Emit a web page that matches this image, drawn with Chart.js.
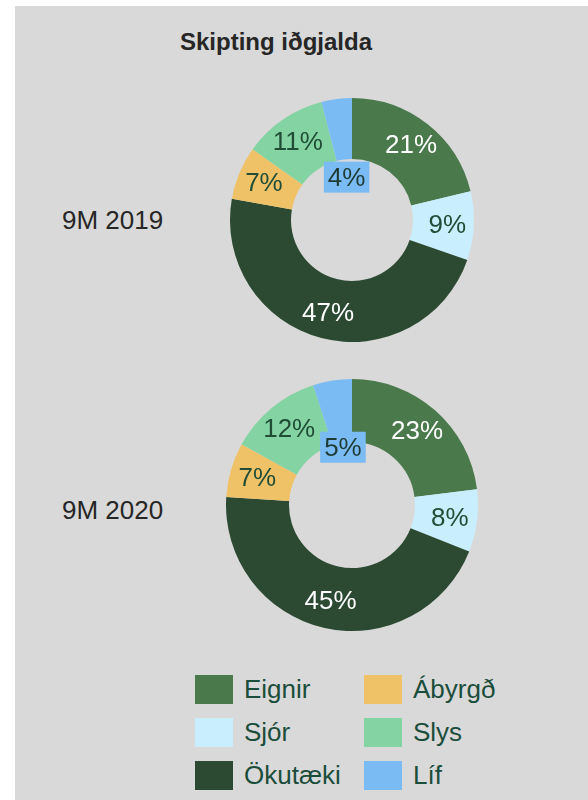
<!DOCTYPE html>
<html>
<head>
<meta charset="utf-8">
<script src="https://cdn.jsdelivr.net/npm/chart.js@4"></script>
<style>
  body { margin: 0; background: #fff; font-family: "Liberation Sans", Arial, sans-serif; }
  #panel { position: absolute; left: 15px; top: 6px; width: 573px; height: 794px; background: #d9d9d9; }
  #title { position: absolute; left: 180px; top: 28px; width: 188px; text-align: center; white-space: nowrap;
           font-weight: bold; font-size: 24px; color: #262626; }
  .rowLabel { position: absolute; left: 62px; font-size: 26px; color: #262626; line-height: 30px; }
  canvas { position: absolute; }
  #legend { position: absolute; left: 195px; top: 668px; display: grid; grid-template-rows: repeat(3, 43px);
            grid-auto-flow: column; grid-template-columns: 169px 150px; }
  .item { display: flex; align-items: center; font-size: 26px; color: #1b4d3b; height: 43px; }
  .box { width: 38px; height: 29px; margin-right: 11px; }
</style>
</head>
<body>
<div id="panel"></div>
<div id="title">Skipting iðgjalda</div>
<div class="rowLabel" style="top:205px">9M 2019</div>
<div class="rowLabel" style="top:495px">9M 2020</div>
<canvas id="c2019" width="260" height="260" style="left:222px;top:90px"></canvas>
<canvas id="c2020" width="260" height="260" style="left:222px;top:375px"></canvas>
<div id="legend"></div>
<script>
"use strict";

// flokkar
const categories = ["Eignir", "Sjór", "Ökutæki", "Ábyrgð", "Slys", "Líf"];
const values2019 = [21, 9, 47, 7, 11, 4];
const values2020 = [23, 8, 45, 7, 12, 5];
const colors = ["#4a7a4b", "#c9eefe", "#2c4a32", "#f0c267", "#84d3a2", "#7bbbf3"];
const labelColors = ["#ffffff", "#214d37", "#ffffff", "#214d37", "#214d37", "#1f3b36"];

// merkingar á sneiðum
const sliceLabels = {
  id: "sliceLabels",
  afterDatasetsDraw(chart, args, opts) {
    const ctx = chart.ctx;
    const meta = chart.getDatasetMeta(0);
    const data = chart.data.datasets[0].data;
    ctx.save();
    ctx.font = "26px 'Liberation Sans', Arial, sans-serif";
    ctx.textAlign = "center";
    ctx.textBaseline = "middle";
    meta.data.forEach((arc, i) => {
      const p = arc.getProps(["x", "y", "startAngle", "endAngle", "innerRadius", "outerRadius"], true);
      const mid = (p.startAngle + p.endAngle) / 2;
      let r = (p.innerRadius + p.outerRadius) / 2 + 4;
      const txt = data[i] + "%";
      if (i === 5) r = p.innerRadius * opts.lifFactor;
      const x = p.x + Math.cos(mid) * r;
      const y = p.y + Math.sin(mid) * r;
      if (i === 5) {
        const w = ctx.measureText(txt).width + 8;
        ctx.fillStyle = colors[5];
        ctx.fillRect(x - w / 2, y - 16, w, 31);
      }
      ctx.fillStyle = labelColors[i];
      ctx.fillText(txt, x, y + 1);
    });
    ctx.restore();
  }
};

function makeChart(id, values, pad, lifFactor) {
  const ctx = document.getElementById(id).getContext("2d");
  return new Chart(ctx, {
    type: "doughnut",
    data: {
      labels: categories,
      datasets: [{ data: values, backgroundColor: colors, borderWidth: 0 }]
    },
    options: {
      responsive: false,
      animation: false,
      cutout: "50%",
      layout: { padding: pad },
      plugins: {
        legend: { display: false },
        tooltip: { enabled: false },
        sliceLabels: { lifFactor: lifFactor }
      }
    },
    plugins: [sliceLabels]
  });
}

makeChart("c2019", values2019, 8, 0.7);
makeChart("c2020", values2020, 4, 0.92);

// skýringar
const legend = document.getElementById("legend");
categories.forEach((name, i) => {
  const item = document.createElement("div");
  item.className = "item";
  item.innerHTML = '<span class="box" style="background:' + colors[i] + '"></span>' + name;
  legend.appendChild(item);
});
</script>
</body>
</html>
